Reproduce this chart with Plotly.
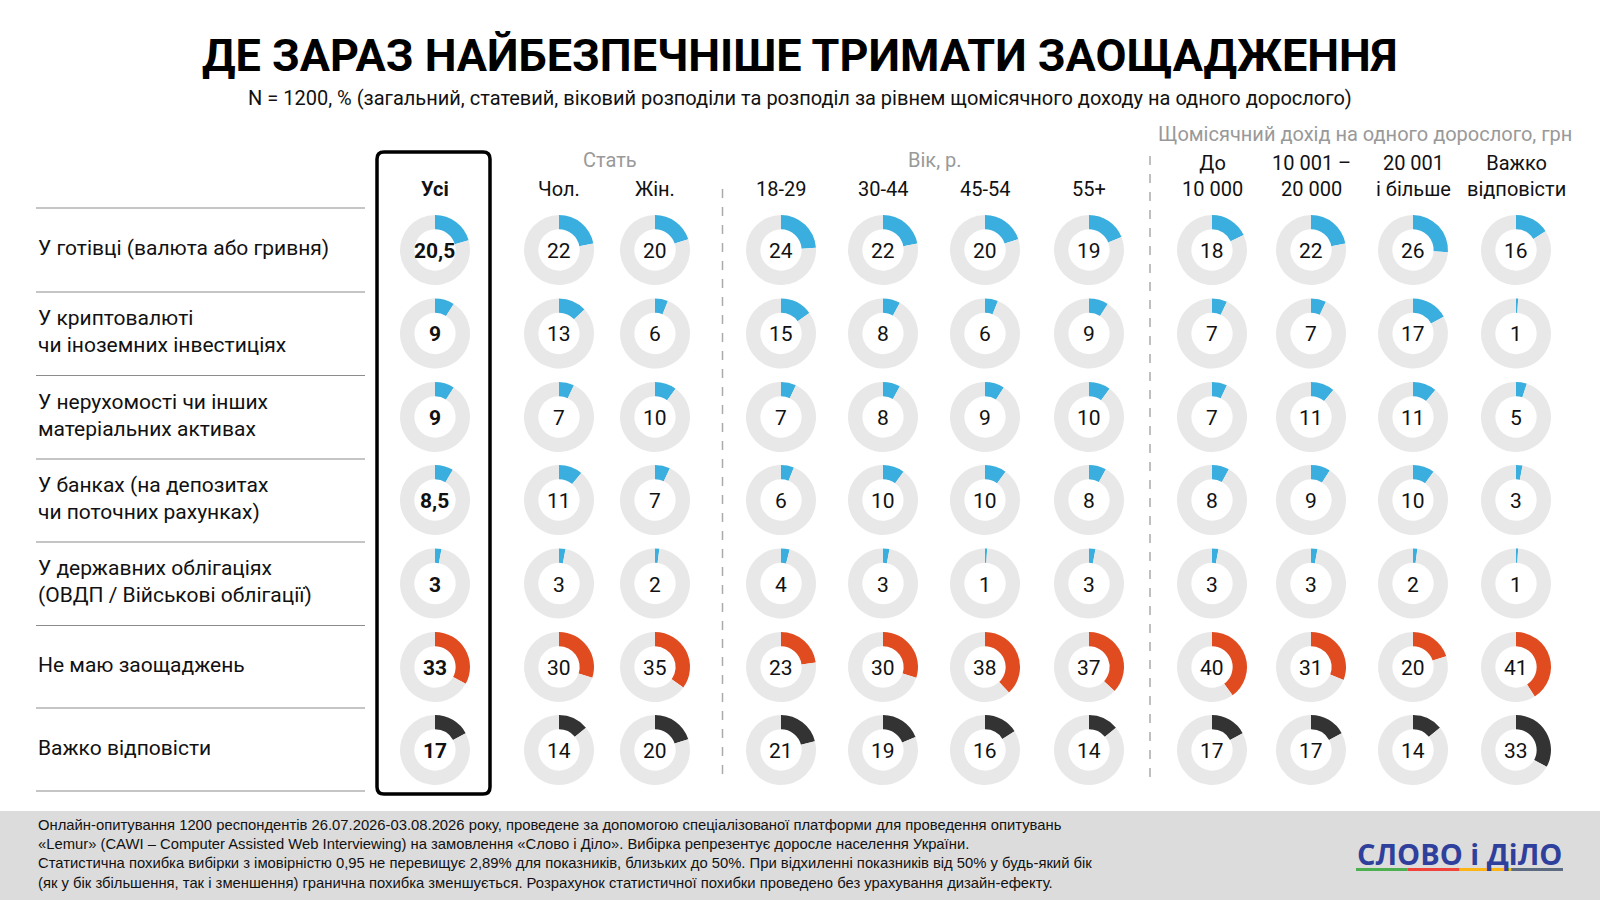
import plotly.graph_objects as go

W, H = 1600, 900

# --- data ---
groups = ["Усі", "Чол.", "Жін.", "18-29", "30-44", "45-54", "55+",
          "До<br>10 000", "10 001 –<br>20 000", "20 001<br>і більше", "Важко<br>відповісти"]
answers = [
    "У готівці (валюта або гривня)",
    "У криптовалюті<br>чи іноземних інвестиціях",
    "У нерухомості чи інших<br>матеріальних активах",
    "У банках (на депозитах<br>чи поточних рахунках)",
    "У державних облігаціях<br>(ОВДП / Військові облігації)",
    "Не маю заощаджень",
    "Важко відповісти",
]
cash = [20.5, 22, 20, 24, 22, 20, 19, 18, 22, 26, 16]
crypto = [9, 13, 6, 15, 8, 6, 9, 7, 7, 17, 1]
realty = [9, 7, 10, 7, 8, 9, 10, 7, 11, 11, 5]
banks = [8.5, 11, 7, 6, 10, 10, 8, 8, 9, 10, 3]
bonds = [3, 3, 2, 4, 3, 1, 3, 3, 3, 2, 1]
no_savings = [33, 30, 35, 23, 30, 38, 37, 40, 31, 20, 41]
hard_to_say = [17, 14, 20, 21, 19, 16, 14, 17, 17, 14, 33]
rows = [cash, crypto, realty, banks, bonds, no_savings, hard_to_say]

BLUE, RED, DARK, TRACK = "#3AAFDF", "#E04C20", "#333333", "#E8E8E8"
row_colors = [BLUE, BLUE, BLUE, BLUE, BLUE, RED, DARK]

NARROW = "Roboto, Liberation Sans, sans-serif"
SANS = "Liberation Sans, Arial, sans-serif"

col_x = [435, 559, 655, 781, 883, 985, 1089, 1212, 1311, 1413, 1516]
row_y = [250, 333.5, 417, 500, 583.5, 667, 750]
R = 35


def px(x):
    return x / W


def py(y):
    return 1 - y / H


def note(x, y, text, size=20, color="#111", family=NARROW, xa="center", align="center"):
    return dict(x=px(x), y=py(y), xref="paper", yref="paper", text=text, showarrow=False,
                xanchor=xa, yanchor="middle", align=align,
                font=dict(family=family, size=size, color=color))


fig = go.Figure()
annotations = []
shapes = []

for i, vals in enumerate(rows):
    for j, v in enumerate(vals):
        cx, cy = col_x[j], row_y[i]
        fig.add_trace(go.Pie(
            values=[v, 100 - v],
            marker=dict(colors=[row_colors[i], TRACK], line=dict(width=0)),
            hole=0.59, sort=False, direction="clockwise", rotation=0,
            textinfo="none", hoverinfo="skip", showlegend=False,
            domain=dict(x=[px(cx - R), px(cx + R)], y=[py(cy + R), py(cy - R)]),
        ))
        label = f"{v:g}".replace(".", ",")
        if j == 0:
            label = f"<b>{label}</b>"
        annotations.append(note(cx, cy + 1, label, size=21))

# row labels and separators
for i, a in enumerate(answers):
    annotations.append(note(36, row_y[i] - 2, a, size=21, xa="left", align="left"))
for y in [208, 292, 375.5, 459, 542, 625.5, 708, 791]:
    shapes.append(dict(type="line", xref="paper", yref="paper",
                       x0=px(36), x1=px(365), y0=py(y), y1=py(y),
                       line=dict(color="#8C8C8C", width=1.2)))

# column headers
for j, g in enumerate(groups):
    two = "<br>" in g
    annotations.append(note(col_x[j], 176 if two else 189, f"<b>{g}</b>" if j == 0 else g))
annotations.append(note(610, 160, "Стать", color="#999999"))
annotations.append(note(935, 160, "Вік, р.", color="#999999"))
annotations.append(note(1365, 134, "Щомісячний дохід на одного дорослого, грн", color="#999999"))

# highlight box for "Усі"
x0, x1, y0, y1, r = px(377), px(490), py(794), py(152), 7
rx, ry = r / W, r / H
box = (f"M {x0 + rx},{y1} L {x1 - rx},{y1} Q {x1},{y1} {x1},{y1 - ry} "
       f"L {x1},{y0 + ry} Q {x1},{y0} {x1 - rx},{y0} L {x0 + rx},{y0} "
       f"Q {x0},{y0} {x0},{y0 + ry} L {x0},{y1 - ry} Q {x0},{y1} {x0 + rx},{y1} Z")
shapes.append(dict(type="path", xref="paper", yref="paper", path=box,
                   line=dict(color="#000", width=3.5)))

# dashed separators
for x, ytop in [(722.5, 189), (1150, 156)]:
    shapes.append(dict(type="line", xref="paper", yref="paper",
                       x0=px(x), x1=px(x), y0=py(ytop), y1=py(781),
                       line=dict(color="#AAAAAA", width=1.5, dash="dash")))

# title / subtitle
annotations.append(note(800, 55, "<b>ДЕ ЗАРАЗ НАЙБЕЗПЕЧНІШЕ ТРИМАТИ ЗАОЩАДЖЕННЯ</b>", size=45, color="#000"))
annotations.append(note(800, 98, "N = 1200, % (загальний, статевий, віковий розподіли та розподіл "
                                 "за рівнем щомісячного доходу на одного дорослого)", size=20))

# footer
shapes.append(dict(type="rect", xref="paper", yref="paper", x0=0, x1=1, y0=0, y1=py(811),
                   fillcolor="#DCDCDC", line=dict(width=0), layer="below"))
footer = ("Онлайн-опитування 1200 респондентів 26.07.2026-03.08.2026 року, проведене за допомогою спеціалізованої платформи для проведення опитувань<br>"
          "«Lemur» (CAWI – Computer Assisted Web Interviewing) на замовлення «Слово і Діло». Вибірка репрезентує доросле населення України.<br>"
          "Статистична похибка вибірки з імовірністю 0,95 не перевищує 2,89% для показників, близьких до 50%. При відхиленні показників від 50% у будь-який бік<br>"
          "(як у бік збільшення, так і зменшення) гранична похибка зменшується. Розрахунок статистичної похибки проведено без урахування дизайн-ефекту.")
annotations.append(note(36, 854, footer, size=14.8, family=SANS, xa="left", align="left"))

# logo
annotations.append(note(1459, 853, "<b>СЛОВО і ДіЛО</b>", size=29, color="#2F3F9C",
                        family="Open Sans, " + SANS))
for k, c in enumerate(["#4CAF50", "#F0443A", "#FDB515", "#5D6B80"]):
    shapes.append(dict(type="rect", xref="paper", yref="paper",
                       x0=px(1356 + 51.75 * k), x1=px(1356 + 51.75 * (k + 1)),
                       y0=py(871), y1=py(868), fillcolor=c, line=dict(width=0)))

fig.update_layout(width=W, height=H, margin=dict(l=0, r=0, t=0, b=0),
                  paper_bgcolor="white", plot_bgcolor="white",
                  annotations=annotations, shapes=shapes)
fig.write_html("out.html", config={"displayModeBar": False},
               post_script="document.body.style.margin='0';")
